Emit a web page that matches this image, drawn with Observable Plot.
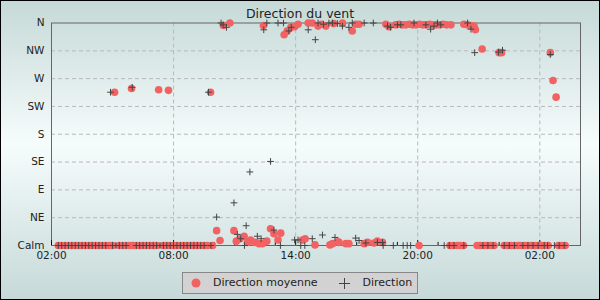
<!DOCTYPE html>
<html><head><meta charset="utf-8">
<script src="https://cdn.jsdelivr.net/npm/d3@7"></script>
<script src="https://cdn.jsdelivr.net/npm/@observablehq/plot@0.6"></script>
<style>
html,body{margin:0;padding:0;background:#fff;}
#wrap{position:relative;width:600px;height:300px;overflow:hidden;background:linear-gradient(to bottom,#c5d9d7 0%,#f6fcfc 48%,#c5d9d8 100%);font-family:"DejaVu Sans",sans-serif;color:#222;}
#border{position:absolute;left:0;top:0;width:600px;height:300px;box-sizing:border-box;border:1px solid #000;pointer-events:none;}
#title{position:absolute;left:0;top:6px;width:600px;text-align:center;font-size:12.5px;line-height:15px;}
#chart svg{display:block;background:none;}
#legend{position:absolute;left:182px;top:272px;width:236px;height:22px;box-sizing:border-box;border:1px solid #888;background:#d2d2d2;font-size:11px;}
#legend span{position:absolute;top:0;line-height:20px;white-space:nowrap;}
#legend svg{position:absolute;}
</style>
</head><body>
<div id="wrap">
  <div id="chart"></div>
  <div id="title">Direction du vent</div>
  <div id="legend">
    <svg width="10" height="10" style="left:8px;top:5px"><circle cx="5" cy="5" r="4.5" fill="#f26262"/></svg>
    <span style="left:30px">Direction moyenne</span>
    <svg width="11" height="11" style="left:156px;top:4.5px"><path d="M0,5.5H11M5.5,0V11" stroke="#444" stroke-width="1"/></svg>
    <span style="left:179.5px">Direction</span>
  </div>
  <div id="border"></div>
</div>
<script>
// Y categories (degrees, Calm = 0)
const dirNames = ["Calm","NE","E","SE","S","SW","W","NW","N"];
const dirDegrees = [0,45,90,135,180,225,270,315,360];
// X ticks (hours from day-1 midnight)
const xMajor = [2,8,14,20,26];
const xMajorLabels = ["02:00","08:00","14:00","20:00","02:00"];
const xMinor = [3,4,5,6,7,9,10,11,12,13,15,16,17,18,19,21,22,23,24,25,27];

// "Direction moyenne" : [time, degrees] (times past 24:00 = next day)
const moyenne = [
["02:20",0],["02:30",0],["02:40",0],["02:50",0],["03:00",0],["03:10",0],["03:20",0],["03:30",0],["03:40",0],["03:50",0],
["04:00",0],["04:10",0],["04:20",0],["04:30",0],["04:40",0],["04:50",0],["05:00",0],["05:06",248],["05:20",0],["05:30",0],
["05:40",0],["05:50",0],["05:56",254],["06:00",0],["06:10",0],["06:20",0],["06:30",0],["06:40",0],["06:50",0],["07:00",0],
["07:10",0],["07:16",252],["07:30",0],["07:40",0],["07:45",251],["07:50",0],["08:00",0],["08:10",0],["08:20",0],["08:30",0],
["08:40",0],["08:50",0],["09:00",0],["09:10",0],["09:20",0],["09:30",0],["09:40",0],["09:49",248],["09:55",0],
["10:07",24],["10:17",8],["10:27",356],["10:46",360],["10:58",24],["11:05",7],["11:16",11],["11:28",15],["11:38",5],["11:47",9],
["11:59",5],["12:12",3],["12:22",3],["12:25",356],["12:35",7],["12:46",27],["12:56",19],["13:08",9],["13:16",20],["13:26",341],
["13:35",347],["13:46",353],["13:57",354],["14:07",358],["14:20",9],["14:28",11],["14:37",360],["14:49",360],["14:57",1],["15:06",355],
["15:16",358],["15:29",355],["15:41",1],["15:49",3],["15:52",359],["16:05",6],["16:08",5],["16:18",360],["16:28",3],["16:37",3],
["16:47",347],["16:57",358],["17:07",358],["17:22",3],["17:32",5],["17:51",4],["18:01",7],["18:16",5],["18:26",358],["18:35",354],
["18:55",357],["19:05",358],["19:15",357],["19:25",357],["19:35",358],["19:45",357],["19:55",357],["20:04",0],["20:05",358],["20:15",357],
["20:25",357],["20:35",358],["20:45",357],["20:55",357],["21:05",357],["21:15",358],["21:25",357],["21:38",357],
["21:35",0],["21:45",0],["21:55",0],["22:05",0],["22:15",0],
["22:16",358],["22:26",357],["22:36",356],["22:46",355],["22:50",349],
["22:55",0],["23:05",0],["23:10",318],["23:15",0],["23:25",0],["23:35",0],["23:45",0],["24:00",312],["24:07",312],
["24:15",0],["24:25",0],["24:35",0],["24:45",0],["24:55",0],["25:05",0],["25:15",0],["25:25",0],["25:35",0],["25:45",0],
["25:55",0],["26:05",0],["26:15",0],["26:25",0],["26:31",312],["26:39",267],["26:48",240],["26:55",0],["27:05",0],["27:15",0]
];

// "Direction" : [time, degrees]
const direction = [
["02:20",0],["02:30",0],["02:40",0],["02:50",0],["03:00",0],["03:10",0],["03:20",0],["03:30",0],["03:40",0],["03:50",0],
["04:00",0],["04:10",0],["04:20",0],["04:30",0],["04:40",0],["04:54",248],["05:00",0],["05:10",0],["05:20",0],["05:30",0],
["05:40",0],["05:58",256],["06:10",0],["06:20",0],["06:30",0],["06:40",0],["06:50",0],["07:00",0],["07:10",0],["07:20",0],
["07:30",0],["07:40",0],["07:50",0],["08:00",0],["08:10",0],["08:20",0],["08:30",0],["08:40",0],["08:50",0],["09:00",0],
["09:10",0],["09:20",0],["09:30",0],["09:43",248],["09:50",0],
["10:07",46],["10:20",360],["10:26",357],["10:36",353],["10:58",69],["11:08",18],["11:18",11],["11:29",0],["11:34",32],["11:45",119],
["12:07",15],["12:18",11],["12:26",349],["12:35",360],["12:46",136],["12:56",25],["13:08",360],["13:15",0],["13:24",360],["13:40",347],
["13:47",353],["13:57",9],["14:07",9],["14:15",0],["14:27",0],["14:37",349],["14:49",11],["14:58",333],["15:06",360],["15:19",17],
["15:22",358],["15:38",360],["15:49",360],["15:56",13],["16:03",359],["16:18",355],["16:37",353],["16:47",360],["16:57",12],["17:07",8],
["17:22",360],["17:27",4],["17:49",360],["18:01",5],["18:16",5],["18:18",0],["18:31",355],["18:40",353],["18:48",0],["19:00",357],
["19:10",357],["19:17",0],["19:29",0],["19:39",0],["19:49",360],["20:24",357],["20:38",350],["20:48",355],["20:58",360],["21:08",357],
["21:18",0],["21:33",0],["21:47",0],["22:16",0],["22:27",360],["22:37",350],["22:48",312],["23:12",0],["23:27",0],["23:42",0],
["23:58",313],["24:10",316],["24:15",0],["24:30",0],["24:45",0],["25:10",0],["25:25",0],["25:40",0],["25:55",0],["26:13",0],
["26:23",0],["26:31",309],["26:43",0],["26:57",0],["27:12",0]
];

const toHours = s => { const [h, m] = s.split(":").map(Number); return h + m / 60; };
const moyData = moyenne.map(([t, d]) => ({t: toHours(t), dir: d}));
const dirData = direction.map(([t, d]) => ({t: toHours(t), dir: d}));
const gridY = dirDegrees.slice(1, -1);
const gridX = xMajor.slice(1);

const chart = Plot.plot({
  width: 600, height: 268,
  marginLeft: 51, marginRight: 20, marginTop: 22.5, marginBottom: 23,
  style: {background: "none", fontFamily: "DejaVu Sans, sans-serif", fontSize: "10.5px", color: "#222", overflow: "visible"},
  x: {domain: [2, 28], ticks: xMajor, tickFormat: d => xMajorLabels[xMajor.indexOf(d)], tickSize: 0, tickPadding: 6, label: null},
  y: {domain: [0, 360], ticks: dirDegrees, tickFormat: d => dirNames[dirDegrees.indexOf(d)], tickSize: 0, tickPadding: 7, label: null},
  marks: [
    Plot.ruleY(gridY, {stroke: "#b9b9b9", strokeDasharray: "4,3"}),
    Plot.ruleX(gridX, {stroke: "#b9b9b9", strokeDasharray: "4,3"}),
    Plot.frame({stroke: "#666"}),
    Plot.ruleX(xMinor, {x: d => d, y1: 0, y2: 5, stroke: "#111"}),
    Plot.ruleX(xMajor, {x: d => d, y1: 0, y2: 8, stroke: "#111"}),
    Plot.dot(moyData, {x: "t", y: "dir", r: 3.8, fill: "#f26262", stroke: "none"}),
    Plot.dot(dirData, {x: "t", y: "dir", symbol: "plus", r: 2.3, stroke: "#444", strokeWidth: 1})
  ]
});
document.getElementById("chart").appendChild(chart);
</script>
</body></html>
